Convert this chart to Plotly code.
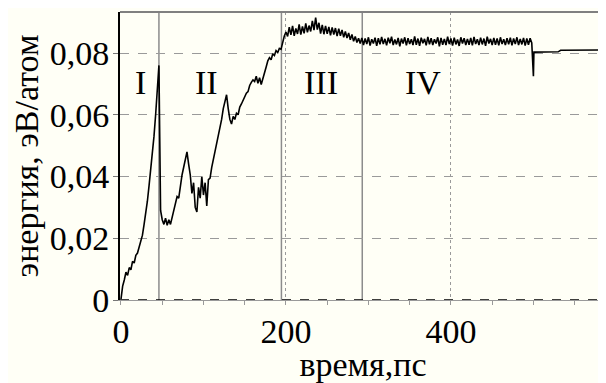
import plotly.graph_objects as go

# ---- data (energy in 10^-3 eV/atom, sampled every 2 ps) ----
seg1_start = 0      # region I
seg1_energy = [0.3, 4.5, 6.5, 9, 8, 10.5, 9.8, 12.5, 12, 14.5, 15.2, 17, 19, 21, 24.5, 28,
               32, 37, 42, 47.5, 53, 60, 67, 76]
seg2_start = 48     # region II
seg2_energy = [29, 26, 24.5, 26.5, 24.2, 26, 24.5, 26.8, 28.5, 31.5, 33.5, 33, 37, 40.5, 43, 46,
               48, 44, 40.5, 34.5, 38, 30, 28.5, 36.5, 33, 40, 34, 38, 30.5, 39, 39.5, 43,
               45.5, 48.5, 51, 54, 56.5, 58.5, 62, 64.5, 66.5, 62, 58.5, 57, 59.5, 58.5, 60.5, 60,
               62.5, 63.5, 64.8, 65.5, 67, 67.5, 69.5, 70.5, 71.3, 70.8, 72.5, 70.2, 72, 69.8, 71.5, 74,
               75.5, 77.5, 78.5, 77.8, 79.8, 79.2, 80.8, 80.2, 81.5, 81.2, 83.5, 85.5, 86.8]
seg3_start = 202    # region III
seg3_energy = [85.4, 88.4, 85.9, 88.8, 85.6, 88.0, 86.2, 89.3, 86.0, 88.6, 86.4, 89.6, 86.7, 88.9, 87.0,
               90.4, 87.4, 91.5, 87.6, 89.8, 86.3, 89.1, 86.1, 88.8, 86.2, 88.5, 85.7, 88.3, 86.0, 88.1,
               85.5, 87.9, 85.6, 87.5, 85.1, 87.0, 84.9, 86.5, 84.3, 86.0, 83.8, 85.4, 83.4, 84.8, 83.1]
seg4_start = 292    # region IV
seg4_energy = [84.9, 82.6, 84.7, 82.9, 85.1, 82.4, 84.5, 83.1, 85.0, 82.3, 84.8, 82.8, 85.2,
               82.9, 84.6, 82.5, 85.0, 83.2, 85.3, 82.6, 84.4, 82.8, 84.9, 82.2, 84.7, 83.1,
               85.1, 82.5, 84.8, 82.9, 84.5, 82.6, 85.4, 82.7, 84.7, 82.3, 85.0, 83.2, 84.6,
               82.5, 85.2, 82.8, 84.8, 82.6, 84.5, 83.1, 85.1, 82.2, 84.9, 82.7, 84.6, 82.6,
               85.3, 82.9, 84.7, 82.4, 85.0, 82.8, 84.4, 82.3, 85.1, 83.1, 84.8, 82.6, 84.6,
               82.7, 84.9, 82.5, 85.2, 82.9, 84.5, 82.6, 85.0, 82.8, 84.7, 82.3, 85.3, 83.1,
               84.6, 82.6, 84.9, 82.7, 84.7, 82.5, 85.1, 82.9, 84.5, 82.6, 84.8, 82.8, 85.0,
               82.5, 84.7, 82.9, 85.1, 82.6, 84.6, 82.8, 84.9, 82.4, 84.7, 82.7, 84.8, 83.3]
tail_time = [500, 500.6, 530, 533, 600]
tail_energy = [72.5, 80.3, 80.4, 80.9, 81.0]
STEP = 2

region_bounds = [46, 194.5, 292.5]
region_labels = ["I", "II", "III", "IV"]
region_label_x = [24, 104, 242, 366]
region_label_y = 0.0705

y_tickvals = [0, 0.02, 0.04, 0.06, 0.08]
y_ticktext = ["0", "0,02", "0,04", "0,06", "0,08"]
x_tickvals = [0, 200, 400]
x_ticktext = ["0", "200", "400"]

# ---- build series ----
time, energy = [], []
for start, seg in [(seg1_start, seg1_energy), (seg2_start, seg2_energy),
                   (seg3_start, seg3_energy), (seg4_start, seg4_energy)]:
    for i, v in enumerate(seg):
        time.append(start + STEP * i)
        energy.append(v / 1000)
time += tail_time
energy += [v / 1000 for v in tail_energy]

FONT = "Liberation Serif, Times New Roman, serif"
BG = "#fffff6"

fig = go.Figure()
fig.add_trace(go.Scatter(x=time, y=energy, mode="lines",
                         line=dict(color="black", width=1.6), showlegend=False,
                         hoverinfo="skip"))

shapes = []
for xb in region_bounds:
    shapes.append(dict(type="line", xref="x", yref="paper", x0=xb, x1=xb, y0=0, y1=1,
                       line=dict(color="#8c8c8c", width=1.5), layer="below"))
# dashed black zero line and grey top border
shapes.append(dict(type="line", xref="paper", yref="y", x0=0, x1=1, y0=0, y1=0,
                   line=dict(color="black", width=1.5, dash="dash")))
shapes.append(dict(type="line", xref="paper", yref="paper", x0=0, x1=1, y0=1, y1=1,
                   line=dict(color="#808080", width=2)))

annotations = []
for lab, lx in zip(region_labels, region_label_x):
    annotations.append(dict(x=lx, y=region_label_y, xref="x", yref="y", text=lab,
                            showarrow=False, font=dict(family=FONT, size=34, color="black")))

# the page body has an 8px default margin, so the figure is sized/offset accordingly
fig.update_layout(
    width=598, height=375,
    margin=dict(l=112, r=0, t=4, b=83),
    paper_bgcolor=BG, plot_bgcolor=BG,
    shapes=shapes, annotations=annotations,
    font=dict(family=FONT, size=34, color="black"),
    xaxis=dict(range=[-1.2, 588], tickvals=x_tickvals, ticktext=x_ticktext, automargin=False,
               showgrid=True, gridcolor="#9a9a9a", griddash="dot", gridwidth=1,
               zeroline=False, showline=True, linecolor="#9a9a9a", linewidth=1,
               ticks="outside", ticklen=4, tickcolor="#9a9a9a", ticklabelstandoff=-3,
               minor=dict(dtick=50, tick0=0, ticks="outside", ticklen=4, tickcolor="#9a9a9a", showgrid=False),
               tickfont=dict(family=FONT, size=34),
               title=dict(text="время,пс", font=dict(family=FONT, size=34), standoff=0)),
    yaxis=dict(range=[0, 0.0933], tickvals=y_tickvals, ticktext=y_ticktext, automargin=False,
               showgrid=True, gridcolor="#9a9a9a", griddash="dash", gridwidth=1,
               zeroline=False, showline=True, linecolor="black", linewidth=2,
               ticks="outside", ticklen=5, tickcolor="#777777", ticklabelstandoff=-3,
               tickfont=dict(family=FONT, size=34),
               title=dict(text="энергия, эВ/атом", font=dict(family=FONT, size=34), standoff=6)),
)

fig.write_html("out.html")
